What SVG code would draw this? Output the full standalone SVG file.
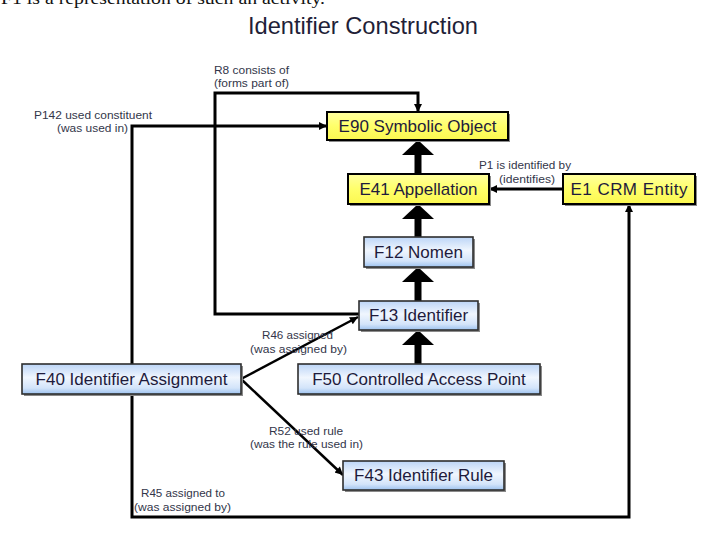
<svg xmlns="http://www.w3.org/2000/svg" width="717" height="537" viewBox="0 0 717 537">
<defs>
<linearGradient id="gBlue" x1="0" y1="0" x2="0" y2="1">
<stop offset="0" stop-color="#bcd5f7"/>
<stop offset="0.45" stop-color="#f0f6fe"/>
<stop offset="0.8" stop-color="#d3e4fa"/>
<stop offset="1" stop-color="#9dc2ef"/>
</linearGradient>
<linearGradient id="gYellow" x1="0" y1="0" x2="0" y2="1">
<stop offset="0" stop-color="#ffffa0"/>
<stop offset="0.5" stop-color="#ffff6a"/>
<stop offset="1" stop-color="#fbf850"/>
</linearGradient>
<marker id="arr" viewBox="0 0 10 10" refX="10" refY="5" markerWidth="10" markerHeight="8" markerUnits="userSpaceOnUse" orient="auto">
<path d="M0,0 L10,5 L0,10 z" fill="#000"/>
</marker>
</defs>
<style>
.shadow{fill:#8a8a8a;}
.blue{fill:url(#gBlue);stroke:#2e2e2e;stroke-width:1.6;}
.yellow{fill:url(#gYellow);stroke:#000;stroke-width:2;}
.ntext{font-family:"Liberation Sans",Arial,sans-serif;font-size:17px;fill:#1e1b3c;text-anchor:middle;}
.lbl{font-family:"Liberation Sans",Arial,sans-serif;font-size:11px;fill:#33364a;}
.title{font-family:"Liberation Sans",Arial,sans-serif;font-size:24px;fill:#1f1f38;}
.conn{fill:none;stroke:#000;stroke-width:3;}
.diag{fill:none;stroke:#000;stroke-width:2.5;}
.thick{fill:none;stroke:#000;stroke-width:7;}
.head{fill:#000;}
</style>
<rect width="717" height="537" fill="#fff"/>
<text x="1" y="4" font-family="'Liberation Serif','Times New Roman',serif" font-size="17" fill="#111" textLength="324" lengthAdjust="spacingAndGlyphs">F1 is a representation of such an activity.</text>
<text class="title" x="248" y="34" textLength="230" lengthAdjust="spacingAndGlyphs">Identifier Construction</text>

<g id="connectors">
<path class="conn" d="M359,314 L215,314 L215,93 L418,93 L418,112" marker-end="url(#arr)"/>
<path class="conn" d="M132,364 L132,126 L327,126" marker-end="url(#arr)"/>
<path class="conn" d="M132,394 L132,517 L629,517 L629,204" marker-end="url(#arr)"/>
<path class="conn" d="M563,189 L489,189" marker-end="url(#arr)"/>
<path class="diag" d="M241,379 L358,317" marker-end="url(#arr)"/>
<path class="diag" d="M241,379 L343,475" marker-end="url(#arr)"/>
<path class="thick" d="M418,174 L418,153"/>
<polygon class="head" points="418,140 402,155 434,155"/>
<path class="thick" d="M418,237 L418,217"/>
<polygon class="head" points="418,204 402,219 434,219"/>
<path class="thick" d="M418,301 L418,280"/>
<polygon class="head" points="418,267 402,282 434,282"/>
<path class="thick" d="M418,364 L418,343"/>
<polygon class="head" points="418,330 402,345 434,345"/>
<text class="lbl" x="214" y="74" textLength="75" lengthAdjust="spacingAndGlyphs">R8 consists of</text>
<text class="lbl" x="214" y="87" textLength="75" lengthAdjust="spacingAndGlyphs">(forms part of)</text>
<text class="lbl" x="34" y="119" textLength="118" lengthAdjust="spacingAndGlyphs">P142 used constituent</text>
<text class="lbl" x="57" y="132" textLength="71" lengthAdjust="spacingAndGlyphs">(was used in)</text>
<text class="lbl" x="479" y="169" textLength="92" lengthAdjust="spacingAndGlyphs">P1 is identified by</text>
<text class="lbl" x="499" y="183" textLength="56" lengthAdjust="spacingAndGlyphs">(identifies)</text>
<text class="lbl" x="262" y="339" textLength="71" lengthAdjust="spacingAndGlyphs">R46 assigned</text>
<text class="lbl" x="250" y="353" textLength="97" lengthAdjust="spacingAndGlyphs">(was assigned by)</text>
<text class="lbl" x="269" y="435" textLength="74" lengthAdjust="spacingAndGlyphs">R52 used rule</text>
<text class="lbl" x="250" y="448" textLength="113" lengthAdjust="spacingAndGlyphs">(was the rule used in)</text>
<text class="lbl" x="141" y="497" textLength="84" lengthAdjust="spacingAndGlyphs">R45 assigned to</text>
<text class="lbl" x="134" y="511" textLength="97" lengthAdjust="spacingAndGlyphs">(was assigned by)</text>
</g>

<g id="E90">
<rect class="shadow" x="329" y="114" width="181" height="28"/>
<rect class="yellow" x="327" y="112" width="181" height="28"/>
<text class="ntext" x="417.5" y="132">E90 Symbolic Object</text>
</g>
<g id="E41">
<rect class="shadow" x="350" y="176" width="141" height="30"/>
<rect class="yellow" x="348" y="174" width="141" height="30"/>
<text class="ntext" x="418.5" y="195">E41 Appellation</text>
</g>
<g id="E1">
<rect class="shadow" x="565" y="176" width="132" height="30"/>
<rect class="yellow" x="563" y="174" width="132" height="30"/>
<text class="ntext" x="629" y="195" textLength="117" lengthAdjust="spacing">E1 CRM Entity</text>
</g>
<g id="F12">
<rect class="shadow" x="366" y="239" width="109" height="30"/>
<rect class="blue" x="364" y="237" width="109" height="30"/>
<text class="ntext" x="418.5" y="258">F12 Nomen</text>
</g>
<g id="F13">
<rect class="shadow" x="361" y="303" width="119" height="29"/>
<rect class="blue" x="359" y="301" width="119" height="29"/>
<text class="ntext" x="418.5" y="321">F13 Identifier</text>
</g>
<g id="F50">
<rect class="shadow" x="300" y="366" width="242" height="30"/>
<rect class="blue" x="298" y="364" width="242" height="30"/>
<text class="ntext" x="419" y="385">F50 Controlled Access Point</text>
</g>
<g id="F40">
<rect class="shadow" x="24" y="366" width="219" height="30"/>
<rect class="blue" x="22" y="364" width="219" height="30"/>
<text class="ntext" x="131.5" y="385">F40 Identifier Assignment</text>
</g>
<g id="F43">
<rect class="shadow" x="345" y="463" width="161" height="29"/>
<rect class="blue" x="343" y="461" width="161" height="29"/>
<text class="ntext" x="423.5" y="481">F43 Identifier Rule</text>
</g>
</svg>
